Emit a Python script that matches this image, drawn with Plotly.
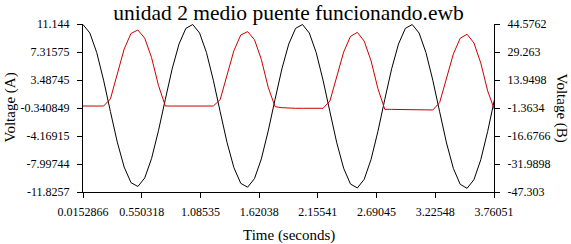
import plotly.graph_objects as go

# ---- data ----
t_start = 0.0152866
t_step = 0.0625
voltage_a = [
    11.07, 9.91, 7.24, 3.46, -0.83, -5.01, -8.41, -10.55, -11.07, -9.91, -7.24, -3.46, 0.83, 5.01, 8.41, 10.55,
    11.07, 9.91, 7.24, 3.46, -0.84, -5.05, -8.49, -10.64, -11.17, -10.00, -7.30, -3.49, 0.83, 5.01, 8.41, 10.55,
    11.07, 9.91, 7.24, 3.46, -0.85, -5.10, -8.57, -10.74, -11.27, -10.09, -7.37, -3.53, 0.83, 5.01, 8.41, 10.55,
    11.07, 9.91, 7.24, 3.46, -0.85, -5.12, -8.60, -10.78, -11.32, -10.14, -7.40, -3.54, 0.85,
]
voltage_b = [
    -0.28, -0.28, -0.28, -0.28, 3.6, 17.24, 30.84, 39.4, 41.28, 36.84, 26.16, 11.04, -0.28, -0.28, -0.28, -0.28,
    -0.28, -0.28, -0.28, -0.28, 3.2, 16.2, 29.96, 38.56, 40.4, 36.0, 25.2, 10.0, -0.64, -1.2, -1.52, -1.52,
    -1.52, -1.52, -1.52, -1.52, 2.4, 15.4, 29.2, 37.8, 40.0, 35.2, 24.4, 9.2, -2.08, -2.12, -2.2, -2.28,
    -2.32, -2.4, -2.44, -2.44, 1.6, 14.4, 28.2, 36.8, 38.96, 34.2, 23.2, 8.0, -2.4,
]
time = [t_start + t_step * i for i in range(len(voltage_a))]

x_ticks = [0.0152866, 0.550318, 1.08535, 1.62038, 2.15541, 2.69045, 3.22548, 3.76051]
x_tick_text = ["0.0152866", "0.550318", "1.08535", "1.62038", "2.15541", "2.69045", "3.22548", "3.76051"]
ya_ticks = [11.144, 7.31575, 3.48745, -0.340849, -4.16915, -7.99744, -11.8257]
ya_tick_text = ["11.144", "7.31575", "3.48745", "-0.340849", "-4.16915", "-7.99744", "-11.8257"]
yb_ticks = [44.5762, 29.263, 13.9498, -1.3634, -16.6766, -31.9898, -47.303]
yb_tick_text = ["44.5762", "29.263", "13.9498", "-1.3634", "-16.6766", "-31.9898", "-47.303"]

title_text = "unidad 2 medio puente funcionando.ewb"
FONT = "Liberation Serif, Times New Roman, serif"

fig = go.Figure()
fig.add_trace(go.Scatter(x=time, y=voltage_a, mode="lines",
                         line=dict(color="black", width=1), yaxis="y", showlegend=False))
fig.add_trace(go.Scatter(x=time, y=voltage_b, mode="lines",
                         line=dict(color="#cc0000", width=1), yaxis="y2", showlegend=False))

W, H = 571, 244
L, R, T, B = 83, 77, 24, 52
ph = H - T - B

axis_common = dict(showline=True, linecolor="black", linewidth=1, ticks="outside", ticklen=5,
                   tickcolor="black", tickwidth=1, showgrid=False, zeroline=False,
                   tickfont=dict(family=FONT, size=12, color="black"))

fig.update_layout(
    width=W, height=H,
    margin=dict(l=L, r=R, t=T, b=B, pad=0),
    paper_bgcolor="white", plot_bgcolor="white",
    font=dict(family=FONT, color="black"),
    title=dict(text=title_text, x=0.5, xanchor="center", xref="paper",
               y=1 - 12 / H, yref="container", yanchor="middle",
               font=dict(family=FONT, size=21.5, color="black")),
    xaxis=dict(range=[x_ticks[0], x_ticks[-1]], tickmode="array", tickvals=x_ticks,
               ticktext=x_tick_text, ticklabelstandoff=4, **axis_common),
    yaxis=dict(range=[ya_ticks[-1], ya_ticks[0]], tickmode="array", tickvals=ya_ticks,
               ticktext=ya_tick_text, ticklabelstandoff=5, **axis_common),
    yaxis2=dict(range=[yb_ticks[-1], yb_ticks[0]], tickmode="array", tickvals=yb_ticks,
                ticktext=yb_tick_text, overlaying="y", side="right", anchor="x",
                ticklabelstandoff=5, **axis_common),
    annotations=[
        dict(text="Voltage (A)", xref="paper", yref="paper", x=-(L - 9.5) / (W - L - R), y=0.5,
             xanchor="center", yanchor="middle", textangle=-90, showarrow=False,
             font=dict(family=FONT, size=15, color="black")),
        dict(text="Voltage (B)", xref="paper", yref="paper", x=1 + (561.5 - (W - R)) / (W - L - R), y=0.5,
             xanchor="center", yanchor="middle", textangle=90, showarrow=False,
             font=dict(family=FONT, size=15, color="black")),
        dict(text="Time (seconds)", xref="paper", yref="paper", x=0.5, y=-(235 - (T + ph)) / ph,
             xanchor="center", yanchor="middle", showarrow=False,
             font=dict(family=FONT, size=15, color="black")),
    ],
)

fig.write_html("out.html")
